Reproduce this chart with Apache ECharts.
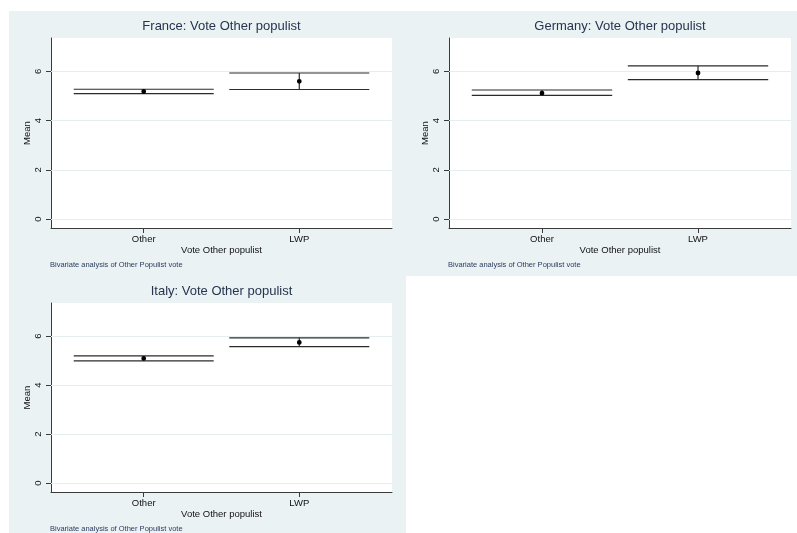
<!DOCTYPE html>
<html>
<head>
<meta charset="utf-8">
<script src="https://cdn.jsdelivr.net/npm/echarts@6/dist/echarts.min.js"></script>
<style>
  html, body { margin: 0; padding: 0; background: #fff; }
  #chart { width: 797px; height: 533px; }
</style>
</head>
<body>
<div id="chart"></div>
<script>
// data
var categories = ['Other', 'LWP'];
var countries = ['France', 'Germany', 'Italy'];
var xPos = [1, 2];
var yTicks = [0, 2, 4, 6];

var franceMean = [5.18, 5.59];
var franceLow = [5.09, 5.26];
var franceHigh = [5.27, 5.93];

var germanyMean = [5.11, 5.93];
var germanyLow = [5.02, 5.66];
var germanyHigh = [5.24, 6.22];

var italyMean = [5.09, 5.74];
var italyLow = [4.99, 5.57];
var italyHigh = [5.19, 5.93];

var xTitle = 'Vote Other populist';
var noteText = 'Bivariate analysis of Other Populist vote';

var FONT = "'Liberation Sans', Arial, Helvetica, sans-serif";
var halfW = 0.45;

// panel layout (pixels)
var panels = [
    { left: 51, top: 38, width: 341, height: 190, mean: franceMean, low: franceLow, high: franceHigh },
    { left: 449, top: 38, width: 342, height: 190, mean: germanyMean, low: germanyLow, high: germanyHigh },
    { left: 51, top: 303, width: 341, height: 189, mean: italyMean, low: italyLow, high: italyHigh }
];

function buildData(p) {
    var d = [];
    for (var i = 0; i < xPos.length; i++) {
        d.push([xPos[i], p.mean[i], p.low[i], p.high[i]]);
    }
    return d;
}

function renderCI(params, api) {
    var x = api.value(0), m = api.value(1), lo = api.value(2), hi = api.value(3);
    var a = api.coord([x - halfW, hi]), b = api.coord([x + halfW, hi]);
    var c = api.coord([x - halfW, lo]), d = api.coord([x + halfW, lo]);
    var top = api.coord([x, hi]), bot = api.coord([x, lo]), mid = api.coord([x, m]);
    var ls = { stroke: '#2b2b2b', lineWidth: 1.2 };
    return {
        type: 'group',
        children: [
            { type: 'line', shape: { x1: a[0], y1: a[1], x2: b[0], y2: b[1] }, style: ls },
            { type: 'line', shape: { x1: c[0], y1: c[1], x2: d[0], y2: d[1] }, style: ls },
            { type: 'line', shape: { x1: top[0], y1: top[1], x2: bot[0], y2: bot[1] }, style: ls },
            { type: 'circle', shape: { cx: mid[0], cy: mid[1], r: 2.4 }, style: { fill: '#000' } }
        ]
    };
}

var grids = [], xAxes = [], yAxes = [], series = [];
var graphics = [
    { type: 'rect', z: -100, silent: true, shape: { x: 9, y: 11, width: 788, height: 265 }, style: { fill: '#eaf2f3' } },
    { type: 'rect', z: -100, silent: true, shape: { x: 9, y: 276, width: 397, height: 257 }, style: { fill: '#eaf2f3' } }
];

for (var k = 0; k < panels.length; k++) {
    var p = panels[k];
    grids.push({
        left: p.left, top: p.top, width: p.width, height: p.height,
        show: true, backgroundColor: '#fff', borderWidth: 0,
        containLabel: false, outerBoundsMode: 'none'
    });
    xAxes.push({
        type: 'value', gridIndex: k, min: 0.404, max: 2.596,
        name: xTitle, nameLocation: 'middle', nameGap: 16,
        nameTextStyle: { fontFamily: FONT, fontSize: 9.5, color: '#111' },
        axisLine: { show: true, onZero: false, lineStyle: { color: '#3a3a3a', width: 1 } },
        axisTick: { show: true, length: 5, customValues: xPos, lineStyle: { color: '#3a3a3a' } },
        axisLabel: {
            customValues: xPos, margin: 6, fontFamily: FONT, fontSize: 9.5, color: '#111',
            formatter: function (v) { return categories[xPos.indexOf(v)] || ''; }
        },
        splitLine: { show: false }
    });
    yAxes.push({
        type: 'value', gridIndex: k, min: -0.36, max: 7.35,
        name: 'Mean', nameLocation: 'middle', nameGap: 19,
        nameTextStyle: { fontFamily: FONT, fontSize: 9.5, color: '#111' },
        axisLine: { show: true, onZero: false, lineStyle: { color: '#3a3a3a', width: 1 } },
        axisTick: { show: true, length: 5, customValues: yTicks, lineStyle: { color: '#3a3a3a' } },
        axisLabel: {
            customValues: yTicks, rotate: 90, margin: 8,
            fontFamily: FONT, fontSize: 9.5, color: '#111'
        },
        splitLine: { show: false }
    });
    // faint gridlines, kept under the marks
    series.push({
        type: 'line', xAxisIndex: k, yAxisIndex: k, data: [], z: 1,
        markLine: {
            silent: true, symbol: 'none', animation: false,
            label: { show: false },
            lineStyle: { color: '#e4eeef', width: 1, type: 'solid' },
            data: yTicks.map(function (t) { return { yAxis: t }; })
        },
        animation: false
    });
    series.push({
        type: 'custom', xAxisIndex: k, yAxisIndex: k, z: 5,
        renderItem: renderCI,
        data: buildData(p),
        encode: { x: 0, y: [1, 2, 3] },
        animation: false
    });
    var cx = p.left + p.width / 2;
    var by = p.top + p.height;
    graphics.push({
        type: 'text', x: cx, y: p.top - 12,
        style: { text: countries[k] + ': ' + xTitle, fontFamily: FONT, fontSize: 13, fill: '#26344f',
                 textAlign: 'center', textVerticalAlign: 'middle' }
    });
    graphics.push({
        type: 'text', x: p.left - 1, y: by + 37,
        style: { text: noteText, fontFamily: FONT, fontSize: 7.5, fill: '#2c3c60',
                 textAlign: 'left', textVerticalAlign: 'middle' }
    });
}

var myChart = echarts.init(document.getElementById('chart'), null, { renderer: 'canvas' });
var option = {
    backgroundColor: '#fff',
    animation: false,
    grid: grids,
    xAxis: xAxes,
    yAxis: yAxes,
    series: series,
    graphic: graphics
};
myChart.setOption(option);
</script>
</body>
</html>
